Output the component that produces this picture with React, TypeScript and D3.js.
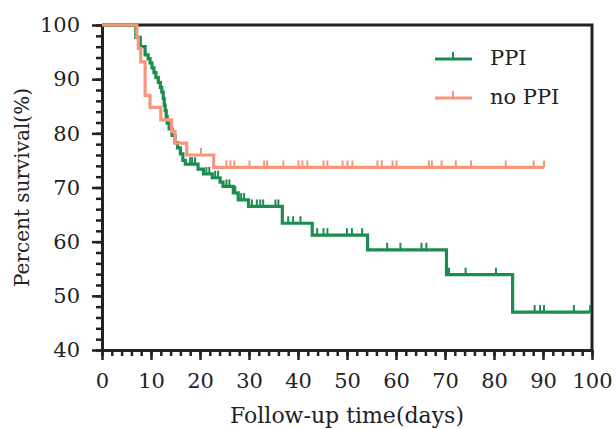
import React, { useEffect, useRef } from 'react';
import * as d3 from 'd3';

// Kaplan-Meier steps (days, percent surviving after the event)
const ppiEventDays = [6.9, 7.8, 8.8, 9.4, 9.8, 10.2, 10.6, 11.0, 11.5, 11.9, 12.2, 12.5, 12.7, 12.9, 13.1, 13.3, 13.7, 14.3, 14.9, 15.4, 16.0, 16.5, 17.0, 19.6, 20.7, 22.5, 24.1, 24.7, 26.8, 27.8, 29.9, 36.8, 42.9, 54.2, 70.3, 83.8];
const ppiSurvival = [97.7, 96.0, 94.5, 93.8, 93.0, 92.1, 91.2, 90.3, 89.4, 88.5, 87.6, 86.4, 85.2, 84.2, 83.1, 81.9, 80.8, 79.6, 78.3, 77.3, 76.2, 75.0, 74.3, 73.4, 72.5, 71.8, 71.0, 70.2, 69.0, 67.7, 66.5, 63.4, 61.2, 58.5, 53.9, 47.0];
const ppiCensorDays = [18.0, 18.4, 19.0, 21.3, 21.9, 23.1, 23.7, 25.4, 26.0, 27.2, 28.4, 29.0, 30.6, 31.6, 32.3, 32.9, 35.4, 36.0, 38.0, 39.0, 40.5, 43.9, 45.2, 46.0, 50.0, 51.0, 53.1, 58.2, 60.9, 65.2, 66.2, 70.8, 74.2, 80.4, 88.3, 89.4, 90.2, 96.3, 99.6];
const ppiLastDay = 99.6;

const noPpiEventDays = [7.1, 7.4, 7.9, 8.8, 9.8, 12.0, 14.2, 14.9, 17.3, 22.8];
const noPpiSurvival = [97.8, 95.7, 93.2, 87.0, 84.8, 82.5, 80.3, 78.2, 76.0, 73.7];
const noPpiCensorDays = [20.2, 25.4, 26.2, 27.0, 30.1, 33.1, 33.7, 37.0, 40.1, 40.9, 41.9, 45.2, 46.0, 49.1, 50.1, 51.1, 56.2, 57.1, 59.3, 60.1, 66.7, 67.3, 69.3, 72.2, 75.3, 82.4, 88.1, 90.2];
const noPpiLastDay = 90.2;

const xTicks = [0, 10, 20, 30, 40, 50, 60, 70, 80, 90, 100];
const xMinorTicks = d3.range(0, 101, 2);
const yTicks = [40, 50, 60, 70, 80, 90, 100];
const yMinorTicks = d3.range(40, 101, 2);

const seriesNames = ['PPI', 'no PPI'];
const seriesColors = ['#1d8c4f', '#f7967a'];

const W = 616;
const H = 429;
const margin = { top: 25, right: 24, bottom: 79, left: 102 };
const FONT = '"DejaVu Serif", serif';

const App: React.FC = () => {
  const svgRef = useRef<SVGSVGElement>(null);

  useEffect(() => {
    document.body.style.margin = '0';
    if (!svgRef.current) return;
    const svg = d3.select(svgRef.current);
    svg.selectAll('*').remove();

    const x = d3.scaleLinear().domain([0, 100]).range([margin.left, W - margin.right]);
    const y = d3.scaleLinear().domain([40, 100]).range([H - margin.bottom, margin.top]);

    // frame (top and right)
    svg.append('path')
      .attr('d', `M${x(0)},${y(100)}H${x(100)}V${y(40)}`)
      .attr('fill', 'none')
      .attr('stroke', '#222')
      .attr('stroke-width', 3);

    // minor ticks
    svg.append('g')
      .attr('transform', `translate(0,${y(40)})`)
      .call(d3.axisBottom(x).tickValues(xMinorTicks).tickSize(6).tickFormat(() => ''))
      .call(g => g.select('.domain').remove())
      .call(g => g.selectAll('line').attr('stroke', '#222').attr('stroke-width', 2.5));

    svg.append('g')
      .attr('transform', `translate(${x(0)},0)`)
      .call(d3.axisLeft(y).tickValues(yMinorTicks).tickSize(6).tickFormat(() => ''))
      .call(g => g.select('.domain').remove())
      .call(g => g.selectAll('line').attr('stroke', '#222').attr('stroke-width', 2.5));

    // major axes
    svg.append('g')
      .attr('transform', `translate(0,${y(40)})`)
      .call(d3.axisBottom(x).tickValues(xTicks).tickSize(10).tickSizeOuter(0).tickPadding(13))
      .call(g => g.select('.domain').attr('stroke', '#222').attr('stroke-width', 3))
      .call(g => g.selectAll('line').attr('stroke', '#222').attr('stroke-width', 2.5))
      .call(g => g.selectAll('text').attr('fill', '#222').attr('font-family', FONT).attr('font-size', 21));

    svg.append('g')
      .attr('transform', `translate(${x(0)},0)`)
      .call(d3.axisLeft(y).tickValues(yTicks).tickSize(10).tickSizeOuter(0).tickPadding(12))
      .call(g => g.select('.domain').attr('stroke', '#222').attr('stroke-width', 3))
      .call(g => g.selectAll('line').attr('stroke', '#222').attr('stroke-width', 2.5))
      .call(g => g.selectAll('text').attr('fill', '#222').attr('font-family', FONT).attr('font-size', 21));

    // axis titles
    svg.append('text')
      .attr('x', (x(0) + x(100)) / 2)
      .attr('y', 423)
      .attr('text-anchor', 'middle')
      .attr('font-family', FONT)
      .attr('font-size', 22)
      .attr('fill', '#222')
      .text('Follow-up time(days)');

    svg.append('text')
      .attr('transform', `translate(29,${(y(40) + y(100)) / 2}) rotate(-90)`)
      .attr('text-anchor', 'middle')
      .attr('font-family', FONT)
      .attr('font-size', 20)
      .attr('fill', '#222')
      .text('Percent survival(%)');

    const line = d3.line<[number, number]>()
      .x(d => x(d[0]))
      .y(d => y(d[1]))
      .curve(d3.curveStepAfter);

    const series = [
      { days: ppiEventDays, surv: ppiSurvival, censor: ppiCensorDays, last: ppiLastDay },
      { days: noPpiEventDays, surv: noPpiSurvival, censor: noPpiCensorDays, last: noPpiLastDay },
    ];

    series.forEach((s, i) => {
      const pts: [number, number][] = [[0, 100]];
      s.days.forEach((d, k) => pts.push([d, s.surv[k]]));
      pts.push([s.last, s.surv[s.surv.length - 1]]);

      const survAt = (t: number) => {
        const k = d3.bisectRight(s.days, t);
        return k === 0 ? 100 : s.surv[k - 1];
      };

      const g = svg.append('g');
      g.append('path')
        .datum(pts)
        .attr('fill', 'none')
        .attr('stroke', seriesColors[i])
        .attr('stroke-width', 3.2)
        .attr('d', line);

      g.selectAll('line.censor')
        .data(s.censor)
        .join('line')
        .attr('class', 'censor')
        .attr('x1', d => x(d))
        .attr('x2', d => x(d))
        .attr('y1', d => y(survAt(d)))
        .attr('y2', d => y(survAt(d)) - 7)
        .attr('stroke', seriesColors[i])
        .attr('stroke-width', 2);
    });

    // legend
    const legend = svg.append('g');
    seriesNames.forEach((name, i) => {
      const ly = 59 + i * 39;
      legend.append('line')
        .attr('x1', 435).attr('x2', 472)
        .attr('y1', ly).attr('y2', ly)
        .attr('stroke', seriesColors[i]).attr('stroke-width', 3);
      legend.append('line')
        .attr('x1', 453).attr('x2', 453)
        .attr('y1', ly).attr('y2', ly - 7)
        .attr('stroke', seriesColors[i]).attr('stroke-width', 2);
      legend.append('text')
        .attr('x', 490)
        .attr('y', ly + 6)
        .attr('font-family', FONT)
        .attr('font-size', 21)
        .attr('fill', '#222')
        .text(name);
    });
  }, []);

  return <svg ref={svgRef} width={W} height={H} style={{ display: 'block', background: '#fff' }} />;
};

export default App;
